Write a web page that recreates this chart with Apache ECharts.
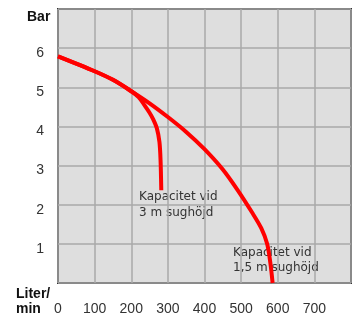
<!DOCTYPE html>
<html>
<head>
<meta charset="utf-8">
<script src="https://cdn.jsdelivr.net/npm/echarts@6/dist/echarts.min.js"></script>
<style>
  html, body { margin: 0; padding: 0; background: #fff; }
  #chart { width: 354px; height: 316px; }
</style>
</head>
<body>
<div id="chart"></div>
<script>
// pump curves, [liter/min, bar]
var curve15m = [[0, 5.79], [100, 5.41], [150, 5.19], [200, 4.90], [250, 4.59], [300, 4.24], [350, 3.86],
  [400, 3.42], [450, 2.90], [490, 2.38], [530, 1.80], [555, 1.40], [571, 1.00], [580, 0.50], [586, 0.0]];
var curve3m = [[0, 5.79], [100, 5.41], [150, 5.19], [195, 4.93], [220, 4.75], [237, 4.53], [250, 4.35],
  [260, 4.18], [270, 3.95], [277, 3.60], [280, 3.14], [282, 2.37]];
var xTicks = [0, 100, 200, 300, 400, 500, 600, 700];
var yTicks = [1, 2, 3, 4, 5, 6];

var myChart = echarts.init(document.getElementById('chart'));

var txt = '#333';
var font = 'DejaVu Sans, Verdana, sans-serif';
var tickFont = 'Liberation Sans, Arial, sans-serif';

myChart.setOption({
    animation: false,
    grid: {
        left: 58, top: 9, right: 2, bottom: 33,
        show: true,
        backgroundColor: '#dedede',
        borderColor: '#333',
        borderWidth: 2
    },
    xAxis: {
        type: 'value',
        min: 0, max: 800, interval: 100,
        axisLine: { show: false },
        axisTick: { show: false },
        splitLine: { lineStyle: { color: '#a8a8a8', width: 1.5 } },
        axisLabel: {
            margin: 19,
            color: txt,
            fontSize: 14,
            fontFamily: tickFont,
            formatter: function (v) { return xTicks.indexOf(v) >= 0 ? String(v) : ''; }
        }
    },
    yAxis: {
        type: 'value',
        min: 0, max: 7, interval: 1,
        axisLine: { show: false },
        axisTick: { show: false },
        splitLine: { lineStyle: { color: '#a8a8a8', width: 1.5 } },
        axisLabel: {
            margin: 14,
            color: txt,
            fontSize: 14,
            fontFamily: tickFont,
            verticalAlign: 'top',
            lineHeight: 10,
            formatter: function (v) { return yTicks.indexOf(v) >= 0 ? String(v) : ''; }
        }
    },
    series: [
        {
            name: '1,5 m',
            type: 'line',
            smooth: 0.3,
            showSymbol: false,
            data: curve15m,
            lineStyle: { color: '#ff0000', width: 4 }
        },
        {
            name: '3 m',
            type: 'line',
            smooth: 0.3,
            showSymbol: false,
            data: curve3m,
            lineStyle: { color: '#ff0000', width: 4 }
        }
    ],
    graphic: [
        { type: 'text', left: 27, top: 10, style: { text: 'Bar', font: 'bold 14px ' + tickFont, fill: '#111' } },
        { type: 'text', left: 16, top: 287, style: { text: 'Liter/', font: 'bold 14px ' + tickFont, fill: '#111' } },
        { type: 'text', left: 16, top: 302, style: { text: 'min', font: 'bold 14px ' + tickFont, fill: '#111' } },
        { type: 'text', left: 139, top: 189, style: { text: 'Kapacitet vid\n3 m sughöjd', font: '12px ' + font, fill: txt, lineHeight: 16 } },
        { type: 'text', left: 233, top: 245, style: { text: 'Kapacitet vid\n1,5 m sughöjd', font: '12px ' + font, fill: txt, lineHeight: 15 } }
    ]
});
</script>
</body>
</html>
